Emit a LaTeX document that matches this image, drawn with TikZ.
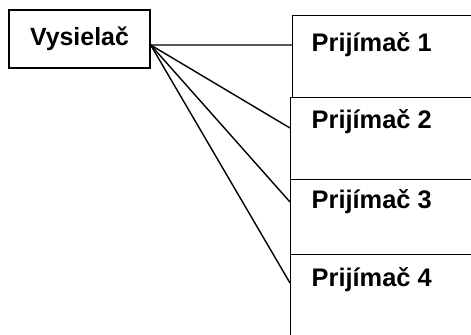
\documentclass[tikz,border=0pt]{standalone}
\usepackage{fontspec}
\setmainfont{Liberation Sans}
\begin{document}
\begin{tikzpicture}[x=1bp,y=-1bp,line width=1.4bp,
    box/.style={draw, rectangle, minimum width=141bp, minimum height=58bp, inner sep=0pt},
    rbox/.style={draw, rectangle, anchor=north west, minimum width=220bp, inner sep=0pt},
    label/.style={anchor=west, inner sep=0pt, font=\fontsize{25.5}{28}\selectfont\bfseries}]
                \clip (0,0) rectangle (471,334);
                \node[box, font=\fontsize{25}{28}\selectfont\bfseries] (vys) at (79.5,39) {Vysielač};
                \node[rbox, minimum height=82bp] (r1) at (292,15) {};
                \node[rbox, minimum height=82bp] (r2) at (290,97) {};
                \node[rbox, minimum height=75bp] (r3) at (290,179) {};
                \node[rbox, minimum height=100bp] (r4) at (290,254) {};
                \node[label] (t1) at (311,45) {Prijímač 1};
                \node[label] (t2) at (311,122) {Prijímač 2};
                \node[label] (t3) at (311,202) {Prijímač 3};
                \node[label] (t4) at (311,280) {Prijímač 4};
                \coordinate (out) at ([yshift=-6bp]vys.east);
                \draw (out) -- (t1.west -| r1.west);
                \draw (out) -- ([yshift=-6bp]t2.west -| r2.west);
                \draw (out) -- (t3.west -| r3.west);
                \draw (out) -- ([yshift=-3bp]t4.west -| r4.west);
            \end{tikzpicture}
\end{document}
